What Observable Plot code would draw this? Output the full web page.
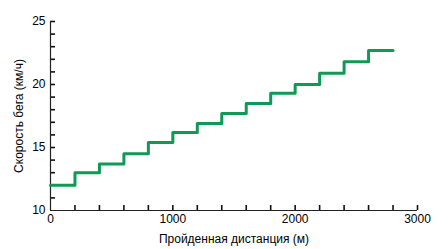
<!DOCTYPE html>
<html>
<head>
<meta charset="utf-8">
<script src="https://cdn.jsdelivr.net/npm/d3@7"></script>
<script src="https://cdn.jsdelivr.net/npm/@observablehq/plot@0.6"></script>
<style>
  html, body { margin: 0; padding: 0; background: #fff; }
  svg { display: block; }
</style>
</head>
<body>
<div id="chart"></div>
<script>
const distance = [0, 200, 400, 600, 800, 1000, 1200, 1400, 1600, 1800, 2000, 2200, 2400, 2600, 2800];
const speed    = [12, 13, 13.7, 14.5, 15.4, 16.2, 16.9, 17.7, 18.5, 19.3, 20, 20.9, 21.8, 22.7, 22.7];
const xMajorTicks = [0, 1000, 2000, 3000];
const xMinorTicks = d3.range(200, 3001, 200);
const yMajorTicks = [10, 15, 20, 25];
const yMinorTicks = d3.range(11, 26, 1);
const xLabel = "Пройденная дистанция (м)";
const yLabel = "Скорость бега (км/ч)";

const data = distance.map((d, i) => ({distance: d, speed: speed[i]}));

const W = 448, H = 249, mL = 50, mT = 21, mB = 39, mR = 31;
const xDomain = [0, 3000], yDomain = [10, 25];
const tickPx = 5;
const tickLenY = tickPx * (yDomain[1] - yDomain[0]) / (H - mT - mB);
const tickLenX = tickPx * (xDomain[1] - xDomain[0]) / (W - mL - mR);

const chart = Plot.plot({
  width: W,
  height: H,
  marginLeft: mL,
  marginTop: mT,
  marginBottom: mB,
  marginRight: mR,
  style: {fontFamily: "'Liberation Sans', Arial, sans-serif", fontSize: "12px", color: "#000"},
  x: {domain: xDomain},
  y: {domain: yDomain},
  marks: [
    Plot.axisX(xMajorTicks, {tickSize: 0, tickPadding: 4, tickFormat: d => String(d), label: xLabel, labelArrow: "none", labelAnchor: "center", labelOffset: 32, fontSize: 12}),
    Plot.axisY(yMajorTicks, {tickSize: 0, tickPadding: 5, tickFormat: d => String(d), label: yLabel, labelArrow: "none", labelAnchor: "center", labelOffset: 36, fontSize: 12}),
    Plot.ruleX(xMinorTicks, {x: d => d, y1: () => yDomain[0], y2: () => yDomain[0] + tickLenY, stroke: "#111", strokeWidth: 1.6}),
    Plot.ruleY(yMinorTicks, {y: d => d, x1: () => xDomain[0], x2: () => xDomain[0] + tickLenX, stroke: "#111", strokeWidth: 1.6}),
    Plot.ruleX([0], {stroke: "#222", strokeWidth: 1.2}),
    Plot.ruleY([10], {stroke: "#222", strokeWidth: 1.2}),
    Plot.line(data, {x: "distance", y: "speed", curve: "step-after", stroke: "#0e9a55", strokeWidth: 3})
  ]
});
document.getElementById("chart").appendChild(chart);
</script>
</body>
</html>
